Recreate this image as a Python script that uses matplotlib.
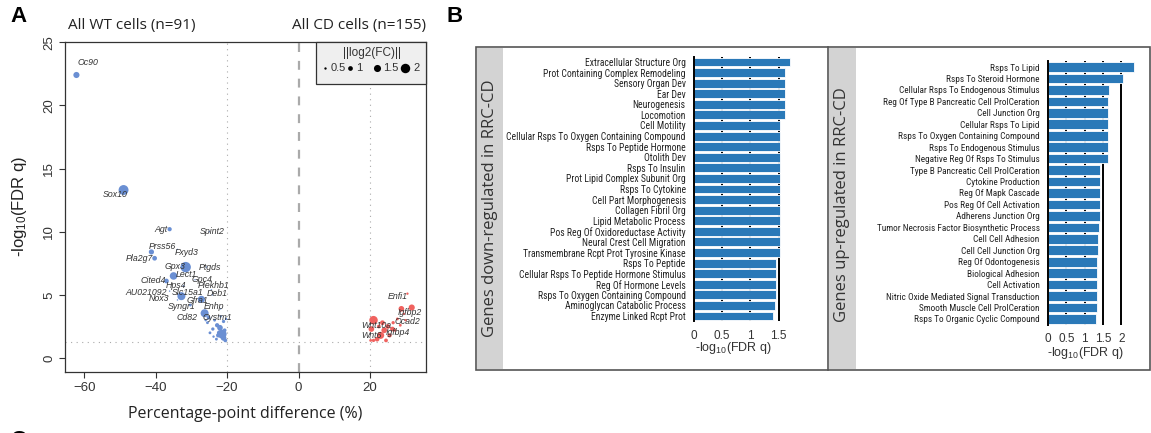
import matplotlib
matplotlib.use('Agg')
import matplotlib.pyplot as plt
from matplotlib.patches import Rectangle
from matplotlib import font_manager as fm
import numpy as np

plt.rcParams['mathtext.default'] = 'regular'
plt.rcParams['font.family'] = ['Liberation Sans', 'DejaVu Sans']

# ---------------- Panel A data ----------------
wt_genes = ['Oc90', 'Sox10', 'Agt', 'Spint2', 'Prss56', 'Fxyd3', 'Pla2g7', 'Gpx3', 'Ptgds',
            'Lect1', 'Cited4', 'Gpc4', 'Hps4', 'Plekhb1', 'AU021092', 'Slc15a1', 'Deb1',
            'Nox3', 'Gfra1', 'Syngr1', 'Enhp', 'Cd82', 'Cystm1',
            '', '', '', '', '', '', '', '', '', '', '', '', '', '', '', '', '', '']
wt_diff = [-62.2, -49.0, -36.1, -25.0, -41.2, -33.9, -40.3, -31.6, -25.8,
           -35.0, -37.0, -29.0, -32.2, -24.4, -36.1, -32.8, -24.1,
           -33.9, -27.2, -30.3, -21.8, -26.3, -25.2,
           -23.5, -22.8, -22.0, -21.0, -20.7, -21.4, -21.0, -22.5, -24.0, -25.5,
           -23.0, -20.5, -24.8, -26.0, -21.8, -20.3, -22.2, -23.8]
wt_q = [22.4, 13.3, 10.2, 10.0, 8.4, 8.6, 7.9, 7.2, 7.2,
        6.5, 6.1, 6.2, 5.7, 5.4, 5.3, 4.9, 5.0,
        4.6, 4.65, 4.2, 3.9, 3.55, 3.2,
        3.0, 2.6, 2.4, 2.9, 2.2, 1.9, 1.6, 1.8, 2.3, 2.8,
        1.5, 1.4, 2.0, 3.0, 3.3, 3.1, 2.0, 1.7]
wt_fc = [1.3, 2.1, 0.9, 0.3, 1.1, 0.3, 1.0, 2.2, 0.3,
         1.6, 1.0, 0.3, 0.4, 0.3, 0.3, 1.7, 0.3,
         0.3, 1.5, 0.6, 0.3, 1.7, 0.8,
         0.6, 0.9, 1.2, 0.7, 0.8, 1.9, 1.2, 0.9, 0.7, 0.6,
         0.6, 0.8, 0.6, 0.5, 0.5, 0.5, 1.0, 0.5]

cd_genes = ['Enfi1', 'Igfbp2', 'Ocad2', 'Wnt10a', 'Igfbp4', 'Wnt6',
            '', '', '', '', '', '', '', '', '', '', '', '', '', '', '', '']
cd_diff = [30.5, 31.7, 27.7, 21.0, 26.3, 20.4,
           28.8, 22.0, 23.0, 24.0, 25.0, 22.5, 21.0, 26.5, 24.5, 23.5, 20.2,
           27.0, 25.5, 29.5, 30.0, 28.5]
cd_q = [5.1, 4.0, 3.1, 3.0, 2.3, 2.3,
        3.9, 1.5, 1.8, 2.2, 2.5, 2.5, 1.4, 2.8, 1.4, 2.8, 1.4,
        2.2, 1.8, 3.5, 3.0, 2.6]
cd_fc = [0.5, 1.3, 0.6, 1.8, 1.0, 1.2,
         1.2, 1.0, 1.5, 1.2, 1.0, 0.8, 0.7, 0.7, 0.8, 1.0, 0.6,
         0.6, 0.9, 0.5, 0.5, 0.6]

legend_fc = [0.5, 1, 1.5, 2]

# ---------------- Panel B data ----------------
down_terms = ['Extracellular Structure Org', 'Prot Containing Complex Remodeling', 'Sensory Organ Dev',
              'Ear Dev', 'Neurogenesis', 'Locomotion', 'Cell Motility',
              'Cellular Rsps To Oxygen Containing Compound', 'Rsps To Peptide Hormone', 'Otolith Dev',
              'Rsps To Insulin', 'Prot Lipid Complex Subunit Org', 'Rsps To Cytokine',
              'Cell Part Morphogenesis', 'Collagen Fibril Org', 'Lipid Metabolic Process',
              'Pos Reg Of Oxidoreductase Activity', 'Neural Crest Cell Migration',
              'Transmembrane Rcpt Prot Tyrosine Kinase', 'Rsps To Peptide',
              'Cellular Rsps To Peptide Hormone Stimulus', 'Reg Of Hormone Levels',
              'Rsps To Oxygen Containing Compound', 'Aminoglycan Catabolic Process',
              'Enzyme Linked Rcpt Prot']
down_vals = [1.70, 1.61, 1.61, 1.61, 1.61, 1.61, 1.52, 1.52, 1.52, 1.52, 1.52, 1.52, 1.52,
             1.52, 1.52, 1.52, 1.52, 1.52, 1.52, 1.46, 1.46, 1.46, 1.46, 1.43, 1.40]

up_terms = ['Rsps To Lipid', 'Rsps To Steroid Hormone', 'Cellular Rsps To Endogenous Stimulus',
            'Reg Of Type B Pancreatic Cell ProlCeration', 'Cell Junction Org', 'Cellular Rsps To Lipid',
            'Rsps To Oxygen Containing Compound', 'Rsps To Endogenous Stimulus',
            'Negative Reg Of Rsps To Stimulus', 'Type B Pancreatic Cell ProlCeration',
            'Cytokine Production', 'Reg Of Mapk Cascade', 'Pos Reg Of Cell Activation',
            'Adherens Junction Org', 'Tumor Necrosis Factor Biosynthetic Process', 'Cell Cell Adhesion',
            'Cell Cell Junction Org', 'Reg Of Odontogenesis', 'Biological Adhesion', 'Cell Activation',
            'Nitric Oxide Mediated Signal Transduction', 'Smooth Muscle Cell ProlCeration',
            'Rsps To Organic Cyclic Compound']
up_vals = [2.34, 2.03, 1.66, 1.63, 1.63, 1.63, 1.63, 1.63, 1.63, 1.41, 1.41, 1.41, 1.41, 1.41,
           1.39, 1.36, 1.36, 1.34, 1.34, 1.34, 1.34, 1.34, 1.31]

bar_ticks_down = [0, 0.5, 1, 1.5]
bar_ticks_up = [0, 0.5, 1, 1.5, 2]

# ---------------- fonts ----------------
def find_condensed():
    pref = ['Liberation Sans Narrow', 'DejaVu Sans Condensed', 'Roboto Condensed',
            'Open Sans Condensed', 'Noto Sans Condensed']
    cands = []
    for f in fm.fontManager.ttflist:
        st = f.stretch
        narrow = ('Narrow' in f.name or 'Condensed' in f.name or 'Cond' in f.fname
                  or (isinstance(st, str) and 'condensed' in st)
                  or (isinstance(st, (int, float)) and st < 500))
        if not narrow or f.style != 'normal':
            continue
        w = f.weight if isinstance(f.weight, (int, float)) else {'normal': 400, 'regular': 400,
                                                                 'book': 400}.get(str(f.weight), 700)
        if w not in (400, 300, 500):
            continue
        rank = next((i for i, p in enumerate(pref) if p.lower() in (f.name + ' ' + f.fname).lower()), 50)
        cands.append((rank, abs(w - 400), f.fname))
    if cands:
        cands.sort()
        return fm.FontProperties(fname=cands[0][2])
    return fm.FontProperties(family='Liberation Sans')


COND_FP = find_condensed()

# ---------------- layout / style ----------------
W, H = 1151, 433
fig = plt.figure(figsize=(W / 100, H / 100), dpi=100)


def ax_px(x0, y0, x1, y1, **kw):
    return fig.add_axes([x0 / W, 1 - y1 / H, (x1 - x0) / W, (y1 - y0) / H], **kw)


def fpos(x, y):
    return x / W, 1 - y / H


BLUE = '#6a8fd3'
RED = '#f0625f'
DARK = '#333333'

label_off = {  # pixel offsets of gene labels from their points (right, down)
    'Oc90': (12, -12), 'Sox10': (-8, 4), 'Agt': (-9, 0), 'Spint2': (3, 0), 'Prss56': (11, -5),
    'Fxyd3': (9, 3), 'Pla2g7': (-15, 0), 'Gpx3': (-11, -1), 'Ptgds': (4, 0), 'Lect1': (13, -1),
    'Cited4': (-13, -1), 'Gpc4': (7, 0), 'Hps4': (-8, -1), 'Plekhb1': (2, -4), 'AU021092': (-23, 1),
    'Slc15a1': (6, -4), 'Deb1': (5, -1), 'Nox3': (-18, -1), 'Gfra1': (-4, 1), 'Syngr1': (-9, 1),
    'Enhp': (-7, -2), 'Cd82': (-18, 4), 'Cystm1': (9, 0),
    'Enfi1': (-10, 3), 'Igfbp2': (-2, 5), 'Ocad2': (10, 3), 'Wnt10a': (3, 5), 'Igfbp4': (5, 3),
    'Wnt6': (0, 6),
}


def sz(fc):
    return (np.asarray(fc, dtype=float) * 3.4) ** 2


# ---------------- Panel A ----------------
axA = ax_px(65, 41.5, 426, 372)
axA.set_xlim(-65.4, 35.7)
axA.set_ylim(-1.1, 25.05)
axA.axvline(0, color='#aaaaaa', lw=1.6, ls=(0, (4, 4)), zorder=1)
for xv in (-20, 20):
    axA.axvline(xv, color='#aaaaaa', lw=0.8, ls=(0, (1, 4)), zorder=1)
axA.axhline(1.3, color='#aaaaaa', lw=0.8, ls=(0, (1, 4)), zorder=1)

axA.scatter(wt_diff, wt_q, s=sz(wt_fc), color=BLUE, edgecolors='none', zorder=3)
axA.scatter(cd_diff, cd_q, s=sz(cd_fc), color=RED, edgecolors='none', zorder=3)

for genes, xs, ys in ((wt_genes, wt_diff, wt_q), (cd_genes, cd_diff, cd_q)):
    for g, xv, yv in zip(genes, xs, ys):
        if not g:
            continue
        dx, dy = label_off[g]
        axA.annotate(g, (xv, yv), xytext=(dx, -dy), textcoords='offset pixels',
                     ha='center', va='center', fontsize=6.3, style='italic', color=DARK, zorder=4)

axA.set_xticks([-60, -40, -20, 0, 20])
axA.set_yticks([0, 5, 10, 15, 20, 25])
axA.tick_params(axis='both', labelsize=9.5, length=4, width=0.8, colors=DARK, pad=3)
for lab in axA.get_yticklabels():
    lab.set_rotation(90)
    lab.set_va('center')
for sp in axA.spines.values():
    sp.set_color(DARK)
    sp.set_linewidth(0.9)

# legend box
lx0, ly0, lx1, ly1 = 316, 42, 426, 84
fig.patches.append(Rectangle(fpos(lx0, ly1), (lx1 - lx0) / W, (ly1 - ly0) / H, transform=fig.transFigure,
                             facecolor='#efefef', edgecolor=DARK, lw=0.9, zorder=5))
fig.text(*fpos(372, 53), '||log2(FC)||', ha='center', va='center', fontsize=8.5, color=DARK, zorder=6)
leg_dot_x = [325, 350, 377, 405]
leg_txt_x = [331, 356, 383, 413]
for f, dx, tx in zip(legend_fc, leg_dot_x, leg_txt_x):
    fig.add_artist(plt.Line2D([dx / W], [1 - 68 / H], marker='o', ms=f * 3.4, color='black',
                              mec='none', transform=fig.transFigure, zorder=6))
    fig.text(*fpos(tx, 68), f'{f:g}', ha='left', va='center', fontsize=8, color=DARK, zorder=6)

fig.text(*fpos(68, 25), 'All WT cells (n=91)', ha='left', va='center', fontsize=11,
         family='Open Sans', color='#222222')
fig.text(*fpos(426, 25), 'All CD cells (n=155)', ha='right', va='center', fontsize=11,
         family='Open Sans', color='#222222')
fig.text(*fpos(245, 414), 'Percentage-point difference (%)', ha='center', va='center', fontsize=11.5,
         family='Open Sans', color='#222222')
fig.text(*fpos(20, 206), '-log$_{10}$(FDR q)', ha='center', va='center', rotation=90, fontsize=12,
         family='Liberation Sans', color='#222222')

fig.text(*fpos(10, 17), 'A', ha='left', va='center', fontsize=16, fontweight='bold', color='black')
fig.text(*fpos(447, 17), 'B', ha='left', va='center', fontsize=16, fontweight='bold', color='black')
fig.text(*fpos(10, 440), 'C', ha='left', va='center', fontsize=16, fontweight='bold', color='black')

# ---------------- Panel B frame ----------------
bx0, by0, bx1, by1 = 476, 47, 1150, 370
fig.patches.append(Rectangle(fpos(bx0, by1), (bx1 - bx0) / W, (by1 - by0) / H, transform=fig.transFigure,
                             facecolor='none', edgecolor='#555555', lw=1.2, zorder=-2))
fig.add_artist(plt.Line2D([828 / W, 828 / W], [1 - by0 / H, 1 - by1 / H], color='#555555', lw=1.2,
                          transform=fig.transFigure, zorder=-1))
for sx0, sx1 in ((bx0, 502), (828, 855)):
    fig.patches.append(Rectangle(fpos(sx0 + 0.6, by1 - 0.6), (sx1 - sx0) / W, (by1 - by0 - 1.2) / H,
                                 transform=fig.transFigure, facecolor='#d3d3d3', edgecolor='none',
                                 zorder=-1))
fig.text(*fpos(490, 208), 'Genes down-regulated in RRC-CD', rotation=90, ha='center', va='center',
         fontsize=12, family='Open Sans', color='#333333')
fig.text(*fpos(842, 205), 'Genes up-regulated in RRC-CD', rotation=90, ha='center', va='center',
         fontsize=12, family='Open Sans', color='#333333')

BAR = '#2a79b8'


def bar_panel(box, terms, vals, ticks, xmax, target_w):
    ax = ax_px(*box)
    n = len(terms)
    pos = np.arange(n)
    for t in ticks[1:]:
        ax.axvline(t, color='black', lw=1.4, zorder=1)
    ax.barh(pos, vals, height=0.84, color=BAR, edgecolor='white', lw=0.6, zorder=2)
    ax.set_ylim(n - 0.5, -0.5)
    ax.set_xlim(0, xmax)
    ax.set_yticks(pos)
    labs = ax.set_yticklabels(terms, fontproperties=COND_FP, color='#222222')
    for lab in labs:
        lab.set_fontsize(8.5)
    ax.set_xticks(ticks)
    ax.set_xticklabels([f'{t:g}' for t in ticks], fontsize=8.5, color='#333333')
    ax.tick_params(axis='y', length=0, pad=6)
    ax.tick_params(axis='x', length=0, pad=6)
    for k in ('top', 'right', 'bottom'):
        ax.spines[k].set_visible(False)
    ax.spines['left'].set_color('black')
    ax.spines['left'].set_linewidth(1.4)
    ax.set_facecolor('none')
    # fit label size to the reference's label width
    r = fig.canvas.get_renderer()
    wmax = max(l.get_window_extent(r).width for l in labs)
    fs = min(8.5 * target_w / wmax, 8.5)
    for lab in labs:
        lab.set_fontsize(fs)
    return ax


axL = bar_panel((694, 56.7, 694 + 1.75 * 56.4, 321.3), down_terms, down_vals, bar_ticks_down, 1.75, 178)
axR = bar_panel((1048, 61.3, 1048 + 2.4 * 36.7, 324.7), up_terms, up_vals, bar_ticks_up, 2.4, 162)
fig.text(*fpos(733, 348), '-log$_{10}$(FDR q)', ha='center', va='center', fontsize=9, color='#333333')
fig.text(*fpos(1085, 353), '-log$_{10}$(FDR q)', ha='center', va='center', fontsize=9, color='#333333')

fig.savefig('out.png', dpi=100)
